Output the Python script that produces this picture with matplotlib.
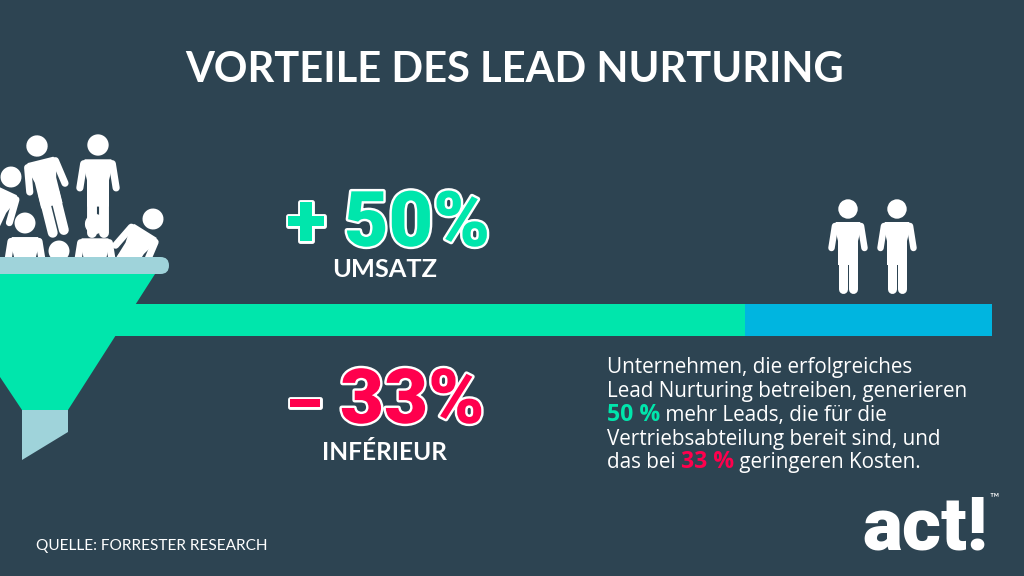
import numpy as np
import matplotlib
matplotlib.use("Agg")
import matplotlib.pyplot as plt
import matplotlib.patheffects as pe
from matplotlib.patches import Circle, Polygon, FancyBboxPatch, Rectangle
from matplotlib.transforms import Affine2D

BG = "#2d4452"
GREEN = "#00e6ac"
BLUE = "#00b5e0"
RED = "#ff004d"
RIM = "#9fd3da"
WHITE = "#ffffff"

title = "VORTEILE DES LEAD NURTURING"
source = "QUELLE: FORRESTER RESEARCH"
stat_up = ("+", "50%", "UMSATZ")
stat_down = ("–", "33%", "INFÉRIEUR")
body_lines = [
    [("Unternehmen, die erfolgreiches", WHITE, False)],
    [("Lead Nurturing betreiben, generieren", WHITE, False)],
    [("50 %", GREEN, True), (" mehr Leads, die für die", WHITE, False)],
    [("Vertriebsabteilung bereit sind, und", WHITE, False)],
    [("das bei ", WHITE, False), ("33 %", RED, True), (" geringeren Kosten.", WHITE, False)],
]

# bar segments in px: start, end, colour
bar_segments = [(115, 745, GREEN), (745, 992, BLUE)]

# people: head x, head y, scale, rotation (deg)
crowd = [
    (11, 177, 1.08, 25),
    (98, 145, 1.10, 0),
    (37, 146, 1.10, -14),
    (25, 223, 1.08, 0),
    (59, 251, 1.08, 0),
    (95, 224, 1.10, 0),
    (153, 219, 1.08, 32),
]
winners = [(848, 209, 1.0, 0), (897, 209, 1.0, 0)]

plt.rcParams["font.family"] = ["Lato", "DejaVu Sans"]

fig = plt.figure(figsize=(10.24, 5.76), dpi=100, facecolor=BG)
ax = fig.add_axes([0, 0, 1, 1])
ax.set_xlim(0, 1024)
ax.set_ylim(576, 0)
ax.axis("off")
renderer = fig.canvas.get_renderer()


def text_width(t):
    return t.get_window_extent(renderer).width


def put(x, y, s, width, color=WHITE, **kw):
    # scale the font so the string spans the wanted pixel width
    t = ax.text(x, y, s, color=color, va="baseline", ha="left", fontsize=20, **kw)
    t.set_fontsize(20 * width / text_width(t))
    return t


def draw_person(hx, hy, scale, rot, clip=None, outline=False):
    tf = Affine2D().scale(scale).rotate_deg(rot).translate(hx, hy) + ax.transData
    lw = 0.72 * scale
    parts = [
        Circle((0, 0), 9.7, fc=WHITE, ec=BG if outline else "none", lw=0.8),
        Polygon([(-14, 16), (-12, 13), (12, 13), (14, 16), (10, 32), (10, 56), (-10, 56), (-10, 32)],
                fc=WHITE, ec="none"),
    ]
    for p in parts:
        p.set_transform(tf)
        ax.add_patch(p)
        if clip is not None:
            p.set_clip_path(clip)
    limbs = [
        ([-13, -16.5], [17, 39], 6.5),
        ([13, 16.5], [17, 39], 6.5),
        ([-5.2, -5.2], [45, 80], 9),
        ([5.2, 5.2], [45, 80], 9),
    ]
    for xs, ys, w in limbs:
        line, = ax.plot(xs, ys, color=WHITE, lw=w * lw, solid_capstyle="round", transform=tf)
        if clip is not None:
            line.set_clip_path(clip)


# people fall behind the rim, so clip them at its top edge
crowd_clip = Rectangle((0, 0), 1024, 257, transform=ax.transData)
for hx, hy, s, r in crowd:
    draw_person(hx, hy, s, r, clip=crowd_clip, outline=(hx == 95))
for hx, hy, s, r in winners:
    draw_person(hx, hy, s, r)

# funnel
ax.add_patch(Polygon([(0, 274), (155, 274), (68, 410), (22, 410), (0, 377)], fc=GREEN, ec="none", zorder=3))
ax.add_patch(Polygon([(22, 410), (68, 410), (68, 432), (22, 460)], fc=RIM, ec="none", zorder=3))
ax.add_patch(FancyBboxPatch((-30, 257), 199, 17, boxstyle="round,pad=0,rounding_size=8.5", fc=RIM, ec="none", zorder=4))

for x0, x1, c in bar_segments:
    ax.barh(320, x1 - x0, height=32, left=x0, color=c, zorder=2)

# headline
put(185, 82, title, 657, weight="bold")

# big numbers with white outline
stroke = [pe.withStroke(linewidth=3.5, foreground=WHITE)]
for sign, num, label, col, y, sx, sw, nx, nw, lx, lw_, ly in [
    (*stat_up, GREEN, 246, 286, 40, 344, 146, 332, 105, 277),
    (*stat_down, RED, 423, 286, 36, 340, 144, 322, 125, 460),
]:
    a = put(sx, y, sign, sw, col, family="Roboto", weight=900, style="normal")
    b = put(nx, y, num, nw, col, family="Roboto", weight=900, style="normal")
    a.set_path_effects(stroke)
    b.set_path_effects(stroke)
    put(lx, ly, label, lw_, weight="bold")

# paragraph, line 2 sets the size
baselines = [373, 397, 421, 445, 468]
probe = ax.text(0, 0, body_lines[1][0][0], fontsize=20, family="Open Sans")
body_size = 20 * 359 / text_width(probe)
probe.remove()
for runs, y in zip(body_lines, baselines):
    x = 607.0
    for s, c, bold in runs:
        size = body_size * 1.12 if bold else body_size
        weight = "bold" if bold else "normal"
        s = s.replace(" ", "\u00a0")
        t = ax.text(x, y, s, color=c, fontsize=size, family="Open Sans",
                    weight=weight, va="baseline", ha="left")
        x += text_width(t)

put(36, 550, source, 231)

# logo
put(862, 550, "act!", 125, family="Roboto", weight=900, style="normal")
ax.text(989, 501, "™", color=WHITE, fontsize=9, va="baseline", ha="left")

fig.savefig("out.png", dpi=100, facecolor=BG)
